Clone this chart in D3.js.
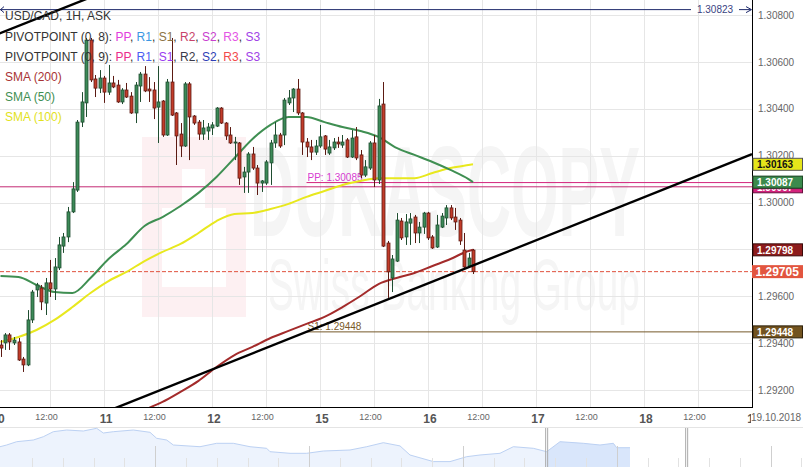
<!DOCTYPE html>
<html>
<head>
<meta charset="utf-8">
<script src="https://d3js.org/d3.v7.min.js"></script>
<style>
  body { margin: 0; background: #fff; }
  svg { display: block; font-family: "Liberation Sans", Arial, sans-serif; }
</style>
</head>
<body>
<svg id="chart" width="803" height="467"></svg>
<script>
// ---- data (hourly candles, index = hours since 10 Oct 00:00, weekend skipped) ----
var firstHour = 1;
var openP = [1.29392,1.29401,1.29435,1.29401,1.29405,1.29332,1.29307,1.29499,1.29627,1.29635,
  1.29571,1.29657,1.29631,1.29721,1.29814,1.29853,1.29960,1.30053,1.30343,1.30425,
  1.30693,1.30527,1.30488,1.30531,1.30471,1.30510,1.30501,1.30429,1.30480,1.30454,
  1.30382,1.30497,1.30548,1.30484,1.30480,1.30407,1.30433,1.30288,1.30514,1.30382,
  1.30292,1.30241,1.30506,1.30369,1.30343,1.30292,1.30305,1.30318,1.30326,1.30403,
  1.30339,1.30288,1.30254,1.30254,1.30109,1.30130,1.30207,1.30147,1.30083,1.30083,
  1.30169,1.30254,1.30288,1.30288,1.30425,1.30446,1.30484,1.30382,1.30258,1.30237,
  1.30215,1.30241,1.30284,1.30211,1.30233,1.30258,1.30245,1.30267,1.30194,1.30280,
  1.30203,1.30117,1.30147,1.30254,1.30096,1.30420,1.29827,1.29678,1.29750,1.29921,
  1.29853,1.29912,1.29938,1.29870,1.29895,1.29955,1.29853,1.29810,1.29895,1.29934,
  1.29977,1.29938,1.29925,1.29797,1.29729,1.29797];
var highP = [1.29413,1.29443,1.29443,1.29426,1.29422,1.29341,1.29541,1.29627,1.29657,1.29648,
  1.29678,1.29755,1.29763,1.29853,1.29870,1.29981,1.30087,1.30352,1.30471,1.30702,
  1.30702,1.30544,1.30565,1.30540,1.30587,1.30540,1.30523,1.30488,1.30510,1.30471,
  1.30514,1.30557,1.30582,1.30535,1.30514,1.30582,1.30437,1.30527,1.30702,1.30386,
  1.30339,1.30514,1.30514,1.30373,1.30352,1.30352,1.30339,1.30343,1.30407,1.30407,
  1.30343,1.30322,1.30280,1.30258,1.30152,1.30215,1.30237,1.30160,1.30096,1.30181,
  1.30267,1.30343,1.30297,1.30446,1.30480,1.30488,1.30527,1.30386,1.30275,1.30267,
  1.30267,1.30331,1.30288,1.30267,1.30275,1.30280,1.30288,1.30275,1.30309,1.30322,
  1.30224,1.30181,1.30262,1.30288,1.30442,1.30514,1.29836,1.29776,1.29955,1.29934,
  1.29951,1.29955,1.29947,1.29917,1.29960,1.29960,1.29861,1.29947,1.29955,1.29989,
  1.29989,1.29977,1.29934,1.29870,1.29785,1.29802];
var lowP = [1.29341,1.29371,1.29371,1.29392,1.29324,1.29277,1.29302,1.29486,1.29597,1.29541,
  1.29520,1.29597,1.29584,1.29712,1.29785,1.29831,1.29955,1.30045,1.30322,1.30365,
  1.30514,1.30450,1.30467,1.30425,1.30459,1.30488,1.30425,1.30420,1.30446,1.30378,
  1.30339,1.30429,1.30471,1.30429,1.30356,1.30254,1.30280,1.30284,1.30369,1.30160,
  1.30194,1.30237,1.30181,1.30331,1.30267,1.30267,1.30267,1.30288,1.30322,1.30335,
  1.30267,1.30250,1.30181,1.30075,1.30041,1.30041,1.30139,1.30032,1.30045,1.30075,
  1.30075,1.30233,1.30233,1.30245,1.30416,1.30386,1.30373,1.30203,1.30194,1.30181,
  1.30203,1.30233,1.30203,1.30203,1.30224,1.30233,1.30233,1.30190,1.30190,1.30181,
  1.30104,1.30109,1.30139,1.30066,1.30079,1.29810,1.29593,1.29618,1.29746,1.29840,
  1.29819,1.29819,1.29827,1.29827,1.29866,1.29840,1.29802,1.29806,1.29891,1.29904,
  1.29925,1.29883,1.29819,1.29721,1.29721,1.29695];
var closeP = [1.29379,1.29435,1.29405,1.29413,1.29328,1.29307,1.29499,1.29618,1.29648,1.29576,
  1.29657,1.29631,1.29725,1.29819,1.29853,1.29960,1.30058,1.30343,1.30429,1.30693,
  1.30523,1.30488,1.30531,1.30471,1.30510,1.30493,1.30429,1.30480,1.30450,1.30382,
  1.30501,1.30548,1.30476,1.30476,1.30403,1.30429,1.30288,1.30514,1.30373,1.30284,
  1.30241,1.30506,1.30365,1.30339,1.30292,1.30318,1.30322,1.30331,1.30403,1.30339,
  1.30284,1.30254,1.30258,1.30104,1.30130,1.30207,1.30147,1.30083,1.30092,1.30173,
  1.30254,1.30288,1.30241,1.30437,1.30446,1.30484,1.30382,1.30258,1.30237,1.30215,
  1.30241,1.30280,1.30228,1.30237,1.30258,1.30250,1.30258,1.30194,1.30275,1.30190,
  1.30117,1.30152,1.30254,1.30096,1.30412,1.29814,1.29704,1.29759,1.29925,1.29849,
  1.29917,1.29930,1.29870,1.29895,1.29955,1.29849,1.29806,1.29904,1.29942,1.29977,
  1.29934,1.29917,1.29836,1.29725,1.29763,1.29705];

// moving averages
var smaIdx = [1,5,9,13,17,21,25,29,33,37,41,45,49,53,57,61,65,69,73,77,81,85,89,93,97,101,105,106];
var sma50 = [1.29686,1.29682,1.29648,1.29618,1.29614,1.29678,1.29759,1.29823,1.29900,1.29938,
  1.29985,1.30041,1.30109,1.30190,1.30271,1.30331,1.30365,1.30365,1.30343,1.30322,
  1.30305,1.30280,1.30233,1.30203,1.30173,1.30139,1.30100,1.30087];
var sma100 = [1.29405,1.29426,1.29456,1.29499,1.29554,1.29614,1.29665,1.29704,1.29750,1.29789,
  1.29823,1.29870,1.29921,1.29951,1.29955,1.29972,1.29994,1.30024,1.30049,1.30075,
  1.30092,1.30104,1.30104,1.30104,1.30126,1.30147,1.30160,1.30163];
var sma200Idx = [33,35,37,41,45,49,53,57,61,65,69,73,77,81,85,89,93,97,101,105,106];
var sma200 = [1.29115,1.29132,1.29149,1.29192,1.29239,1.29298,1.29349,1.29384,1.29422,1.29452,
  1.29482,1.29512,1.29554,1.29601,1.29652,1.29678,1.29699,1.29729,1.29759,1.29793,1.29798];

// trend channel lines (hour index, price)
var trendUpIdx = [0, 22], trendUpP = [1.30715, 1.30883];
var trendLowIdx = [26, 168], trendLowP = [1.29119, 1.30206];

// levels
var pivotStart = 69;
var ppWeek = 1.30085, s1Week = 1.29448, ppDay = 1.30067;
var lastPrice = 1.29705, topLevel = 1.30823;

// axis ticks
var yTicks = [1.292,1.294,1.296,1.298,1.300,1.302,1.304,1.306,1.308];
var dayTicks = [0,24,48,72,96,120,144,168];
var dayLabels = ['10','11','12','15','16','17','18','19'];
var halfTicks = [12,36,60,84,108,132,156];

// navigator history
var navHour = [0,8,20,40,52,64,80,100,116,124,136,160,180,188,200,208,240,260,280,300,320,324,348,368,388,420,440,460,480,492,520,540,560,576,600,616,640,656,672,700,720,736,740,756];
var navPrice = [1.29995,1.30223,1.30665,1.30892,1.31334,1.32004,1.32231,1.32097,1.32459,1.31830,
  1.32004,1.32231,1.31923,1.31120,1.30892,1.30223,1.29995,1.30450,1.30450,1.29995,
  1.29781,1.29326,1.29111,1.29111,1.29419,1.29553,1.29995,1.30531,1.30100,1.28884,
  1.28000,1.28000,1.28656,1.28884,1.29111,1.29995,1.29781,1.29326,1.30665,1.30450,
  1.30223,1.30450,1.29861,1.29861];
var navWindow = [656, 824];

// ---- scales ----
var x = d3.scaleLinear().domain([0, 168]).range([-4, 752]);
var y = d3.scaleLinear().domain([1.292, 1.308]).range([390, 15]);
var xNav = d3.scaleLinear().domain([0, 756]).range([0, 630]);
var yNav = d3.scaleLinear().domain([1.28, 1.325]).range([461.6, 428]);

var svg = d3.select('#chart');
var defs = svg.append('defs');
defs.append('clipPath').attr('id', 'plotClip')
  .append('rect').attr('x', 0).attr('y', 0).attr('width', 752.5).attr('height', 407);
defs.append('clipPath').attr('id', 'winClip')
  .append('rect').attr('x', xNav(navWindow[0])).attr('y', 420)
  .attr('width', xNav(navWindow[1]) - xNav(navWindow[0])).attr('height', 50);

// watermark
var wm = svg.append('g');
wm.append('rect').attr('x', 142).attr('y', 137).attr('width', 104).attr('height', 180).attr('fill', '#fdf0f2');
wm.append('rect').attr('x', 162).attr('y', 208).attr('width', 64).attr('height', 79).attr('fill', '#fff');
wm.append('rect').attr('x', 182).attr('y', 169).attr('width', 23).attr('height', 40).attr('fill', '#fff');
wm.append('text').attr('x', 250).attr('y', 236)
  .attr('font-size', 128).attr('font-weight', 'bold').attr('fill', '#f5f5f5')
  .attr('textLength', 390).attr('lengthAdjust', 'spacingAndGlyphs').text('DUKASCOPY');
wm.append('text').attr('x', 268).attr('y', 310)
  .attr('font-size', 72).attr('fill', '#f5f5f5')
  .attr('textLength', 372).attr('lengthAdjust', 'spacingAndGlyphs').text('Swiss Banking Group');

// grid
var grid = svg.append('g').attr('clip-path', 'url(#plotClip)');
grid.selectAll('line.h').data(yTicks).join('line').attr('class', 'h')
  .attr('x1', 0).attr('x2', 752)
  .attr('y1', d => Math.round(y(d)) + 0.5).attr('y2', d => Math.round(y(d)) + 0.5)
  .attr('stroke', '#e6e6e6');
grid.selectAll('line.v').data(d3.range(12, 168, 12)).join('line').attr('class', 'v')
  .attr('y1', 0).attr('y2', 407)
  .attr('x1', d => Math.round(x(d)) + 0.5).attr('x2', d => Math.round(x(d)) + 0.5)
  .attr('stroke', '#e6e6e6');

var plot = svg.append('g').attr('clip-path', 'url(#plotClip)');

// horizontal levels
plot.append('line').attr('x1', 0).attr('x2', 752).attr('y1', y(ppDay)).attr('y2', y(ppDay))
  .attr('stroke', '#c42a74').attr('stroke-width', 1);
plot.append('line').attr('x1', x(pivotStart)).attr('x2', 752).attr('y1', y(ppWeek)).attr('y2', y(ppWeek))
  .attr('stroke', '#d3237c').attr('stroke-width', 1);
plot.append('line').attr('x1', x(pivotStart)).attr('x2', 752).attr('y1', y(s1Week)).attr('y2', y(s1Week))
  .attr('stroke', '#75582a').attr('stroke-width', 1);
plot.append('text').attr('x', x(pivotStart) + 1).attr('y', y(ppWeek) - 1.5)
  .attr('font-size', 10).attr('fill', '#d63cd0').text('PP: ' + ppWeek.toFixed(5));
plot.append('text').attr('x', x(pivotStart) + 1).attr('y', y(s1Week) - 1.5)
  .attr('font-size', 10).attr('fill', '#7a5a2a').text('S1: ' + s1Week.toFixed(5));
plot.append('line').attr('x1', 0).attr('x2', 752).attr('y1', y(lastPrice)).attr('y2', y(lastPrice))
  .attr('stroke', '#e0523e').attr('stroke-dasharray', '4,2');

// top level line with arrows
var ty = y(topLevel);
plot.append('line').attr('x1', 0).attr('x2', 691).attr('y1', ty).attr('y2', ty).attr('stroke', '#1f2a6b');
plot.append('line').attr('x1', 739).attr('x2', 751).attr('y1', ty).attr('y2', ty).attr('stroke', '#1f2a6b');
plot.append('path').attr('d', 'M746,' + (ty - 3) + 'L751.5,' + ty + 'L746,' + (ty + 3))
  .attr('fill', 'none').attr('stroke', '#1f2a6b');
plot.append('path').attr('d', 'M4,' + (ty - 3) + 'L0.5,' + ty + 'L4,' + (ty + 3))
  .attr('fill', 'none').attr('stroke', '#1f2a6b');
plot.append('text').attr('x', 715).attr('y', ty + 3.5).attr('text-anchor', 'middle')
  .attr('font-size', 10).attr('fill', '#3a4482').text(topLevel.toFixed(5));

// moving averages
function smaLine(idx, vals, color) {
  var pts = idx.map((d, k) => [d, vals[k]]);
  plot.append('path').datum(pts)
    .attr('d', d3.line().x(d => x(d[0])).y(d => y(d[1])).curve(d3.curveMonotoneX))
    .attr('fill', 'none').attr('stroke', color).attr('stroke-width', 2);
}
smaLine(smaIdx, sma100, '#e8e81e');
smaLine(sma200Idx, sma200, '#a32b2b');
smaLine(smaIdx, sma50, '#3f8f52');

// candles
var candles = openP.map((o, k) => ({ i: firstHour + k, o: o, h: highP[k], l: lowP[k], c: closeP[k] }));
var cg = plot.append('g');
cg.selectAll('line').data(candles).join('line')
  .attr('x1', d => Math.round(x(d.i)) + 0.5).attr('x2', d => Math.round(x(d.i)) + 0.5)
  .attr('y1', d => y(d.h)).attr('y2', d => y(d.l))
  .attr('stroke', d => d.c >= d.o ? '#1f4d30' : '#5c1a12');
cg.selectAll('rect').data(candles).join('rect')
  .attr('x', d => Math.round(x(d.i)) - 1)
  .attr('width', 3)
  .attr('y', d => y(Math.max(d.o, d.c)))
  .attr('height', d => Math.max(1, Math.abs(y(d.o) - y(d.c))))
  .attr('fill', d => d.c >= d.o ? '#3c8a58' : '#c23c2a')
  .attr('stroke', d => d.c >= d.o ? '#1f4d30' : '#5c1a12')
  .attr('stroke-width', 0.8);

// trend channel
[[trendUpIdx, trendUpP], [trendLowIdx, trendLowP]].forEach(function(t) {
  plot.append('line')
    .attr('x1', x(t[0][0])).attr('y1', y(t[1][0]))
    .attr('x2', x(t[0][1])).attr('y2', y(t[1][1]))
    .attr('stroke', '#000').attr('stroke-width', 2.4);
});

// frame
svg.append('line').attr('x1', 0).attr('x2', 753).attr('y1', 407.5).attr('y2', 407.5).attr('stroke', '#000');
svg.append('line').attr('x1', 752.5).attr('x2', 752.5).attr('y1', 0).attr('y2', 407.5).attr('stroke', '#000');

// y axis
var gy = svg.append('g').attr('transform', 'translate(753,0)')
  .call(d3.axisRight(y).tickValues(yTicks).tickSize(0).tickPadding(5).tickFormat(d3.format('.5f')));
gy.select('.domain').remove();
gy.attr('font-family', null).attr('font-size', null);
gy.selectAll('text').attr('fill', '#666').attr('font-size', 10);

// x axis
var gxh = svg.append('g').attr('transform', 'translate(0,407)')
  .call(d3.axisBottom(x).tickValues(halfTicks).tickSize(0).tickPadding(7).tickFormat(() => '12:00'));
gxh.select('.domain').remove();
gxh.attr('font-family', null).attr('font-size', null);
gxh.selectAll('text').attr('dx', -4).attr('fill', '#666').attr('font-size', 9);

var gxd = svg.append('g').attr('transform', 'translate(0,407)')
  .call(d3.axisBottom(x).tickValues(dayTicks).tickSize(0).tickPadding(7).tickFormat((d, k) => dayLabels[k]));
gxd.select('.domain').remove();
gxd.attr('font-family', null).attr('font-size', null);
gxd.selectAll('text').attr('dx', 1.5).attr('fill', '#555').attr('font-size', 12).attr('font-weight', 'bold');

svg.append('rect').attr('x', 751).attr('y', 411).attr('width', 52).attr('height', 13).attr('fill', '#fff');
svg.append('text').attr('x', 751).attr('y', 421).attr('font-size', 10).attr('fill', '#666').text('19.10.2018');

// price tags on the right axis
var tags = [
  { v: sma100[sma100.length - 1], bg: '#e5e51a', fg: '#111', border: '#555' },
  { v: ppDay, bg: '#d3237c', fg: '#fff', border: '#6a1040' },
  { v: ppWeek, bg: '#d3237c', fg: '#fff', border: '#6a1040' },
  { v: sma50[sma50.length - 1], bg: '#3b8a4c', fg: '#fff', border: '#1f4a28' },
  { v: sma200[sma200.length - 1], bg: '#8e1c1c', fg: '#fff', border: '#3a0a0a' },
  { v: s1Week, bg: '#72531f', fg: '#fff', border: '#2e200a' }
];
var tg = svg.append('g');
tags.forEach(function(t) {
  var cy = y(t.v);
  tg.append('rect').attr('x', 753).attr('y', cy - 6).attr('width', 49.5).attr('height', 12)
    .attr('fill', t.bg).attr('stroke', t.border).attr('stroke-width', 1);
  tg.append('text').attr('x', 757).attr('y', cy + 3.8).attr('font-size', 10).attr('font-weight', 'bold')
    .attr('fill', t.fg).text(t.v.toFixed(5));
});
tg.append('rect').attr('x', 752).attr('y', y(lastPrice) - 6.5).attr('width', 51).attr('height', 13).attr('fill', '#e2553f');
tg.append('text').attr('x', 755.5).attr('y', y(lastPrice) + 4.5).attr('font-size', 12).attr('font-weight', 'bold')
  .attr('fill', '#fff').text(lastPrice.toFixed(5));

// legend
var lg = svg.append('g').attr('font-size', 12);
function legendRow(yy, parts) {
  var t = lg.append('text').attr('x', 5).attr('y', yy);
  parts.forEach(p => t.append('tspan').attr('fill', p[1]).text(p[0]));
}
var pivotNames = ['PP', 'R1', 'S1', 'R2', 'S2', 'R3', 'S3'];
var pivColors1 = ['#e23ddc', '#3b97e3', '#8c7344', '#c8436a', '#c83ecf', '#e455e4', '#a042e6'];
var pivColors2 = ['#ea2c8c', '#4a5ef2', '#9a3cf0', '#3a3a48', '#2e3eb6', '#f24a4a', '#a042e6'];
function pivotParts(label, colors) {
  var parts = [[label, '#333']];
  pivotNames.forEach(function(n, k) {
    if (k > 0) parts.push([', ', '#333']);
    parts.push([n, colors[k]]);
  });
  return parts;
}
legendRow(19.5, [['USD/CAD, 1H, ASK', '#333']]);
legendRow(41, pivotParts('PIVOTPOINT (0, 8): ', pivColors1));
legendRow(60.5, pivotParts('PIVOTPOINT (0, 9): ', pivColors2));
legendRow(80.5, [['SMA (200)', '#a83434']]);
legendRow(100.5, [['SMA (50)', '#3f8f52']]);
legendRow(120.5, [['SMA (100)', '#e2e21c']]);

// navigator
var nav = svg.append('g');
nav.append('line').attr('x1', 0).attr('x2', 803).attr('y1', 427.5).attr('y2', 427.5).attr('stroke', '#e4e4e4');
var navPts = navHour.map((h, k) => [h, navPrice[k]]);
var navArea = d3.area().x(d => xNav(d[0])).y0(467).y1(d => yNav(d[1]));
nav.append('path').datum(navPts).attr('d', navArea).attr('fill', '#edf3fd');
nav.append('path').datum(navPts).attr('d', navArea).attr('fill', '#d9e6fb').attr('clip-path', 'url(#winClip)');
nav.append('path').datum(navPts).attr('d', d3.line().x(d => xNav(d[0])).y(d => yNav(d[1])))
  .attr('fill', 'none').attr('stroke', '#bcd1f3');
nav.selectAll('line.tk').data(d3.range(1, 27)).join('line').attr('class', 'tk')
  .attr('x1', k => Math.round(1.4 + 30.77 * k) + 0.5).attr('x2', k => Math.round(1.4 + 30.77 * k) + 0.5)
  .attr('y1', k => k % 5 === 0 ? 446 : 458).attr('y2', 467)
  .attr('stroke', k => k % 5 === 0 ? '#cfcfcf' : '#e2e2e2');
[xNav(navWindow[0]), xNav(navWindow[1])].forEach(function(hx) {
  nav.append('line').attr('x1', hx - 1).attr('x2', hx - 1).attr('y1', 428).attr('y2', 467).attr('stroke', '#aaa');
  nav.append('line').attr('x1', hx + 1).attr('x2', hx + 1).attr('y1', 428).attr('y2', 467).attr('stroke', '#aaa');
});
</script>
</body>
</html>
